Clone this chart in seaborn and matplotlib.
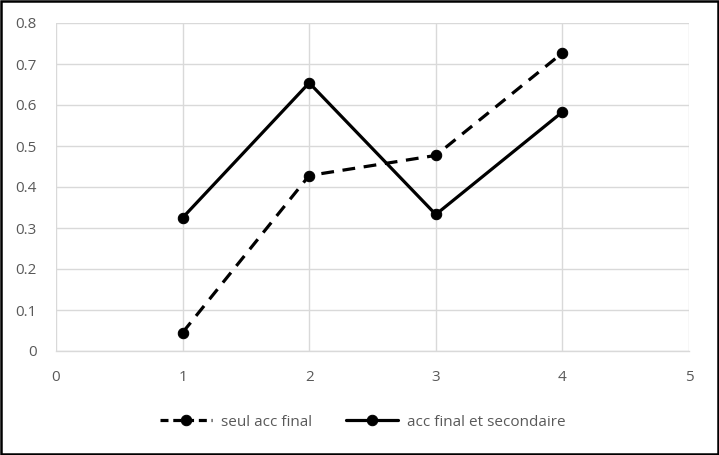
import matplotlib
matplotlib.use("Agg")
import matplotlib.pyplot as plt
import seaborn as sns
import pandas as pd
from matplotlib.patches import Rectangle

x_vals = [1, 2, 3, 4]
seul_acc_final = [0.045, 0.428, 0.477, 0.727]
acc_final_secondaire = [0.325, 0.654, 0.333, 0.583]
series_names = ["seul acc final", "acc final et secondaire"]
x_ticks = [0, 1, 2, 3, 4, 5]
y_ticks = [0, 0.1, 0.2, 0.3, 0.4, 0.5, 0.6, 0.7, 0.8]
y_labels = ["0", "0.1", "0.2", "0.3", "0.4", "0.5", "0.6", "0.7", "0.8"]

sns.set_style("white")
plt.rcParams['font.family'] = ['Open Sans', 'DejaVu Sans']

fig = plt.figure(figsize=(7.19, 4.55), dpi=100)
ax = fig.add_axes([56/719, 1-351/455, (689-56)/719, (351-23)/455])

df1 = pd.DataFrame({"x": x_vals, "y": seul_acc_final})
df2 = pd.DataFrame({"x": x_vals, "y": acc_final_secondaire})

sns.lineplot(data=df1, x="x", y="y", ax=ax, color="black", linewidth=2.3,
             marker="o", markersize=7.5, markeredgecolor="black",
             dashes=False, label=series_names[0])
ax.lines[-1].set_dashes((4, 2.7))
sns.lineplot(data=df2, x="x", y="y", ax=ax, color="black", linewidth=2.3,
             marker="o", markersize=7.5, markeredgecolor="black",
             label=series_names[1])

ax.set_xlim(0, 5)
ax.set_ylim(0, 0.8)
ax.set_xticks(x_ticks)
ax.set_xticklabels([str(t) for t in x_ticks])
ax.set_yticks(y_ticks)
ax.set_yticklabels(y_labels)
ax.set_xlabel("")
ax.set_ylabel("")
ax.grid(True, color="#d9d9d9", linewidth=1)
ax.set_axisbelow(True)
for s in ["top", "right", "left"]:
    ax.spines[s].set_visible(False)
ax.spines["bottom"].set_color("#d9d9d9")
ax.spines["bottom"].set_linewidth(1)
ax.tick_params(axis="both", length=0, labelsize=11, labelcolor="#595959")
ax.tick_params(axis="x", pad=14)
ax.tick_params(axis="y", pad=14)

leg = ax.legend(loc="center", bbox_to_anchor=(0.505, 1 - 422/455), bbox_transform=fig.transFigure,
                ncol=2, frameon=False, fontsize=11, handlelength=3.4, columnspacing=2.2,
                handletextpad=0.6)
for t in leg.get_texts():
    t.set_color("#595959")
leg.get_lines()[0].set_dashes((2.5, 1.5))

fig.patches.append(Rectangle((0.002, 0.003), 0.996, 0.994, transform=fig.transFigure,
                             fill=False, edgecolor="black", linewidth=1.8))

fig.savefig("out.png", dpi=100)
